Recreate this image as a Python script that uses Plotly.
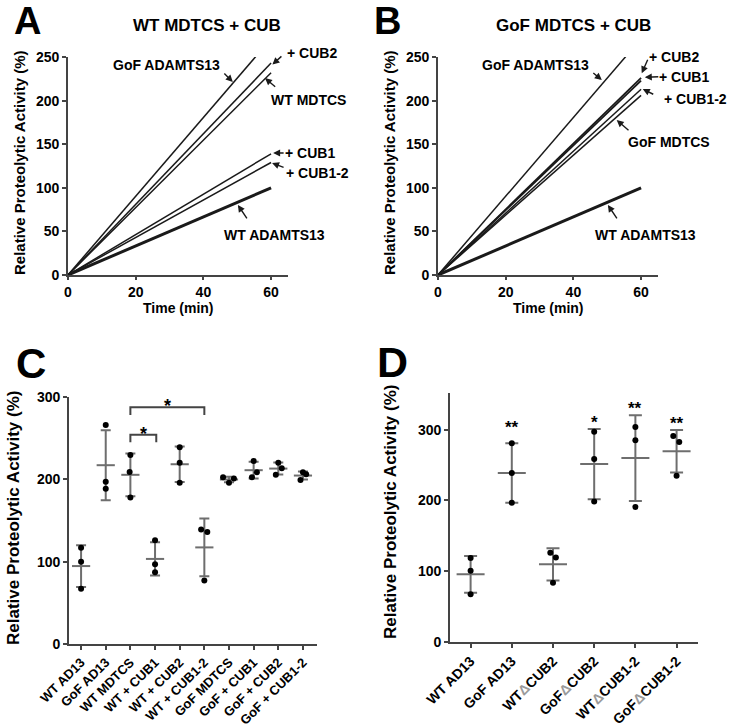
import numpy as np
import plotly.graph_objects as go

W, H = 745, 728
FONT = "Liberation Sans, Arial, sans-serif"
GRAY = "#6e6e6e"
AXC = "#444444"

# ---------------- data ----------------
# Panels A / B : relative activity vs time (lines from origin)
time_min = [0, 60]
a_series = ["GoF ADAMTS13", "+ CUB2", "WT MDTCS", "+ CUB1", "+ CUB1-2", "WT ADAMTS13"]
a_end = [271, 243, 232, 139, 129, 100]
b_series = ["GoF ADAMTS13", "+ CUB2", "+ CUB1", "+ CUB1-2", "GoF MDTCS", "WT ADAMTS13"]
b_end = [271, 226, 223, 213, 206, 100]

# Panel C : individual replicate values
c_cats = ["WT AD13", "GoF AD13", "WT MDTCS", "WT + CUB1", "WT + CUB2", "WT + CUB1-2",
          "GoF MDTCS", "GoF + CUB1", "GoF + CUB2", "GoF + CUB1-2"]
c_vals = [[117, 100, 67], [266, 197, 188.5], [229.5, 209, 178], [126, 97, 87],
          [239, 220, 196], [139, 136, 77], [202.5, 196, 201], [222.3, 208.5, 202.5],
          [220.2, 213.4, 205.6], [208.5, 206.1, 199.2]]
c_jitter = [[0, 0, 0], [0, 0, 0], [0, -0.03, 0], [0, 0, 0], [0, 0, 0], [-0.13, 0.12, 0],
            [-0.24, 0, 0.2], [0, 0.13, -0.07], [0, 0.14, -0.1], [0, 0.13, -0.1]]

# Panel D
d_cats = ["WT AD13", "GoF AD13",
          "WT<span style='color:#9a9a9a'>Δ</span>CUB2",
          "GoF<span style='color:#9a9a9a'>Δ</span>CUB2",
          "WT<span style='color:#9a9a9a'>Δ</span>CUB1-2",
          "GoF<span style='color:#9a9a9a'>Δ</span>CUB1-2"]
d_vals = [[118.4, 100.5, 67], [281, 238.7, 196.7], [126, 119, 83.5],
          [297, 258.5, 198.6], [304, 285, 190.6], [291, 282.5, 235]]
d_jitter = [[0, 0, 0], [0, 0, 0], [-0.065, 0.07, 0], [0, 0, 0], [0, 0, 0], [-0.08, 0.065, 0]]
d_sig = ["", "**", "", "*", "**", "**"]
d_sig_y = [None, 310, None, 318, 337, 316]


def px_x(p):
    return p / W


def px_y(p):
    return 1 - p / H


fig = go.Figure()

# ---------------- panels A and B ----------------
a_widths = [1.5, 1.5, 1.5, 1.5, 1.5, 3]
b_widths = [1.5, 1.8, 1.8, 1.5, 1.5, 3]
for name, end, w in zip(a_series, a_end, a_widths):
    fig.add_trace(go.Scatter(x=time_min, y=[0, end], mode="lines", name=name,
                             line=dict(color="#1a1a1a", width=w),
                             xaxis="x", yaxis="y", showlegend=False))
for name, end, w in zip(b_series, b_end, b_widths):
    fig.add_trace(go.Scatter(x=time_min, y=[0, end], mode="lines", name=name,
                             line=dict(color="#1a1a1a", width=w),
                             xaxis="x2", yaxis="y2", showlegend=False))


# ---------------- panels C and D ----------------
def add_dot_panel(vals, jit, xa, ya, mean_size, cap):
    for i, (v, j) in enumerate(zip(vals, jit)):
        v = np.array(v, dtype=float)
        m = v.mean()
        sd = v.std(ddof=1)
        fig.add_trace(go.Scatter(
            x=[i], y=[m], mode="markers", xaxis=xa, yaxis=ya, showlegend=False,
            marker=dict(symbol="line-ew", size=mean_size, color=GRAY,
                        line=dict(width=2, color=GRAY)),
            error_y=dict(type="data", array=[sd], color=GRAY, thickness=2, width=cap)))
        fig.add_trace(go.Scatter(
            x=[i + jj for jj in j], y=list(v), mode="markers", xaxis=xa, yaxis=ya,
            showlegend=False, marker=dict(color="black", size=6)))


add_dot_panel(c_vals, c_jitter, "x3", "y3", 13, 5)
add_dot_panel(d_vals, d_jitter, "x4", "y4", 20, 6.5)

# ---------------- axes ----------------
tickfont = dict(family=FONT, size=14, color="black", weight="bold")
common = dict(showline=True, linecolor=AXC, linewidth=1.6, ticks="outside",
              ticklen=4, tickwidth=1.6, tickcolor=AXC, showgrid=False,
              zeroline=False, tickfont=tickfont, automargin=False)
ab_x = dict(common, ticklen=3)
c_x = dict(common, tickfont=dict(tickfont, size=13))

fig.update_layout(
    xaxis=dict(domain=[px_x(68), px_x(288)], range=[0, 65], tickvals=[0, 20, 40, 60],
               anchor="y", **ab_x),
    yaxis=dict(domain=[px_y(275), px_y(57)], range=[0, 250], dtick=50, anchor="x", **common),
    xaxis2=dict(domain=[px_x(438), px_x(658)], range=[0, 65], tickvals=[0, 20, 40, 60],
                anchor="y2", **ab_x),
    yaxis2=dict(domain=[px_y(275), px_y(57)], range=[0, 250], dtick=50, anchor="x2", **common),
    xaxis3=dict(domain=[px_x(69), px_x(317)], range=[-0.49, 9.57],
                tickvals=list(range(len(c_cats))), ticktext=c_cats, tickangle=-45,
                anchor="y3", **c_x),
    yaxis3=dict(domain=[px_y(644), px_y(397)], range=[0, 300], tickvals=[0, 100, 200, 300],
                anchor="x3", **common),
    xaxis4=dict(domain=[px_x(450), px_x(698)], range=[-0.5, 5.52],
                tickvals=list(range(len(d_cats))), ticktext=d_cats, tickangle=-45,
                anchor="y4", **common),
    yaxis4=dict(domain=[px_y(641.7), px_y(393)], range=[0, 352],
                tickvals=[0, 100, 200, 300], anchor="x4", **common),
)

ann = []


def text_px(txt, x, y, size=14, bold=True, angle=0, xanchor="center"):
    ann.append(dict(text=f"<b>{txt}</b>" if bold else txt, x=px_x(x), y=px_y(y),
                    xref="paper", yref="paper", showarrow=False, textangle=angle,
                    xanchor=xanchor, yanchor="middle",
                    font=dict(family=FONT, size=size, color="black")))


def arrow(xref, yref, x, y, ax, ay):
    ann.append(dict(text="", x=x, y=y, xref=xref, yref=yref, ax=ax, ay=ay,
                    showarrow=True, arrowhead=2, arrowsize=1, arrowwidth=1.4,
                    arrowcolor="#1a1a1a"))


# panel letters
text_px("A", 28, 21, size=38)
text_px("B", 388, 21, size=38)
text_px("C", 31, 363, size=42)
text_px("D", 392, 362, size=43)

# titles
text_px("WT MDTCS + CUB", 207, 26, size=17)
text_px("GoF MDTCS + CUB", 573, 26, size=17)

# axis titles
text_px("Relative Proteolytic Activity (%)", 19, 163, size=15, angle=-90)
text_px("Relative Proteolytic Activity (%)", 389, 163, size=15, angle=-90)
text_px("Time (min)", 178, 308, size=14)
text_px("Time (min)", 548, 308, size=14)
text_px("Relative Proteolytic Activity (%)", 13, 518, size=17, angle=-90)
text_px("Relative Proteolytic Activity (%)", 390, 512, size=17, angle=-90)

# panel A labels and arrows
for t, x, y in [("GoF ADAMTS13", 166, 65), ("+ CUB2", 312, 53), ("WT MDTCS", 308, 100),
                ("+ CUB1", 310, 153), ("+ CUB1-2", 317, 173), ("WT ADAMTS13", 274, 235)]:
    text_px(t, x, y)
for x, y, ax, ay in [(48.7, 221.3, -10, -10), (60.4, 241.4, 10.5, -9.5), (58.2, 225.9, 11.7, 10),
                     (60.6, 139.9, 12, 0), (60.3, 128.4, 13, 5), (50.2, 80.3, 10, 15)]:
    arrow("x", "y", x, y, ax, ay)

# panel B labels and arrows
for t, x, y in [("GoF ADAMTS13", 535, 65), ("+ CUB2", 674, 57), ("+ CUB1", 684, 77),
                ("+ CUB1-2", 695, 99), ("GoF MDTCS", 669, 142), ("WT ADAMTS13", 645, 235)]:
    text_px(t, x, y)
for x, y, ax, ay in [(48.4, 223.6, -10, -8.3), (60.2, 231.4, 6.6, -15), (61.1, 226.7, 15, -0.6),
                     (60.5, 213.3, 12, 6), (52.8, 177.8, 13.3, 11.7), (50.2, 80.3, 10, 15)]:
    arrow("x2", "y2", x, y, ax, ay)

# panel C significance brackets
shapes = []
for x0, x1, ytop, yleg, ystar in [(2, 3.05, 254, 245, 261), (2, 5, 287.5, 278, 295.5)]:
    shapes.append(dict(type="path", xref="x3", yref="y3",
                       path=f"M {x0},{yleg} L {x0},{ytop} L {x1},{ytop} L {x1},{yleg}",
                       line=dict(color=AXC, width=2)))
    ann.append(dict(text="<b>*</b>", x=(x0 + x1) / 2, y=ystar, xref="x3", yref="y3",
                    showarrow=False, yanchor="middle", yshift=-5,
                    font=dict(family=FONT, size=18, color="black")))

# panel D stars
for i, (s, yv) in enumerate(zip(d_sig, d_sig_y)):
    if s:
        ann.append(dict(text=f"<b>{s}</b>", x=i, y=yv, xref="x4", yref="y4",
                        showarrow=False, yanchor="middle", yshift=-5,
                        font=dict(family=FONT, size=17, color="black")))

fig.update_layout(width=W, height=H, autosize=False,
                  margin=dict(l=0, r=0, t=0, b=0, pad=0, autoexpand=False),
                  paper_bgcolor="white", plot_bgcolor="white",
                  showlegend=False, annotations=ann, shapes=shapes,
                  font=dict(family=FONT, color="black"))

# remove the browser's default 8px body margin so the figure fills the window
fig.write_html("out.html", config={"displayModeBar": False},
               post_script="document.body.style.margin='0';")
